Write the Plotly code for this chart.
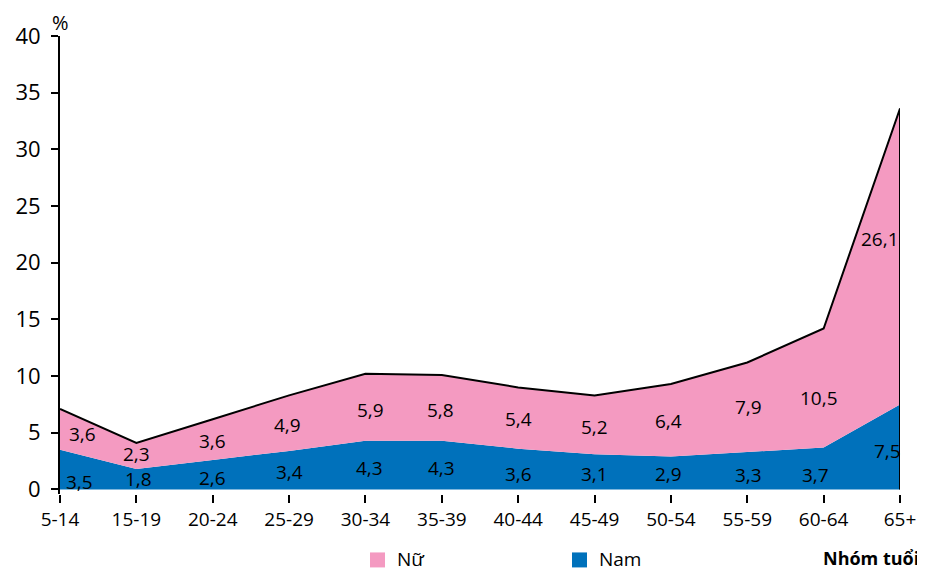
import plotly.graph_objects as go

categories = ["5-14", "15-19", "20-24", "25-29", "30-34", "35-39", "40-44",
              "45-49", "50-54", "55-59", "60-64", "65+"]
nam = [3.5, 1.8, 2.6, 3.4, 4.3, 4.3, 3.6, 3.1, 2.9, 3.3, 3.7, 7.5]
nu = [3.6, 2.3, 3.6, 4.9, 5.9, 5.8, 5.4, 5.2, 6.4, 7.9, 10.5, 26.1]
y_ticks = [0, 5, 10, 15, 20, 25, 30, 35, 40]

# label placement (text positions only)
nam_label_y = [0.7, 0.9, 1.05, 1.5, 1.9, 1.9, 1.4, 1.4, 1.4, 1.3, 1.3, 3.35]
nu_label_y = [4.85, 3.1, 4.25, 5.7, 7.05, 7.05, 6.25, 5.55, 6.0, 7.3, 8.1, 22.1]
nam_label_dx = [19, 2, 0, 0, 4, 0, 0, 0, -2, 1, -8, -13]
nu_label_dx = [22, 0, 0, -2, 5, -1, 0, 0, -2, 1, -5, -20]

PINK = "#F49AC1"
BLUE = "#0071BB"
FONT = "Open Sans"

x = list(range(len(categories)))
total = [a + b for a, b in zip(nam, nu)]

fig = go.Figure()
fig.add_trace(go.Scatter(x=x, y=nam, mode="lines", fill="tozeroy",
                         fillcolor=BLUE, line=dict(width=0, color=BLUE),
                         name="Nam", showlegend=False, hoverinfo="skip"))
fig.add_trace(go.Scatter(x=x, y=total, mode="lines", fill="tonexty",
                         fillcolor=PINK, line=dict(width=2, color="black"),
                         name="Nữ", showlegend=False, hoverinfo="skip"))
fig.add_trace(go.Scatter(x=[x[-1], x[-1]], y=[0, total[-1]], mode="lines",
                         line=dict(width=2, color="black"), showlegend=False,
                         hoverinfo="skip"))

def fmt(v):
    return f"{v:.1f}".replace(".", ",")

for i in x:
    fig.add_annotation(x=i, y=nam_label_y[i], text=fmt(nam[i]), showarrow=False,
                       xshift=nam_label_dx[i], font=dict(family=FONT, size=19, color="black"))
    fig.add_annotation(x=i, y=nu_label_y[i], text=fmt(nu[i]), showarrow=False,
                       xshift=nu_label_dx[i], font=dict(family=FONT, size=19, color="black"))

# page body has an 8px margin, so the figure is offset by 8px
OFF = 8
W, H = 925 - OFF, 573 - OFF
ML, MR, MT, MB = 60 - OFF, 25, 36 - OFF, 78.5
PH = H - MT - MB
PW = W - ML - MR
BOTTOM = 494.5  # page px of plot bottom
TOP = 36        # page px of plot top

# "%" unit
fig.add_annotation(xref="paper", yref="paper", x=0.0, y=1.0 + (TOP - 22) / PH,
                   xanchor="left", yanchor="middle", borderpad=0,
                   text="%", showarrow=False, xshift=-9,
                   font=dict(family=FONT, size=20, color="black"))
# axis title
fig.add_annotation(xref="paper", yref="paper", x=1.0, y=-(559 - BOTTOM) / PH,
                   xanchor="right", yanchor="middle",
                   text="<b>Nhóm tuổi</b>", showarrow=False, xshift=21,
                   font=dict(family=FONT, size=18, color="black"))

# custom legend
legend_items = [("Nữ", PINK, 370), ("Nam", BLUE, 572)]
for label, color, px in legend_items:
    fig.add_shape(type="rect", xref="paper", yref="paper",
                  x0=(px - 60) / PW, x1=(px + 15 - 60) / PW,
                  y0=-(568 - BOTTOM) / PH, y1=-(553 - BOTTOM) / PH,
                  fillcolor=color, line=dict(width=0))
    fig.add_annotation(xref="paper", yref="paper", x=(px + 25 - 60) / PW,
                       y=-(560 - BOTTOM) / PH, xanchor="left", yanchor="middle",
                       text=label, showarrow=False,
                       font=dict(family=FONT, size=19, color="black"))

fig.update_xaxes(range=[0, len(categories) - 1], tickvals=x, ticktext=categories,
                 showgrid=False, zeroline=False, showline=False, automargin=False,
                 ticks="outside", ticklen=8, tickwidth=2, tickcolor="black",
                 tickfont=dict(family=FONT, size=19, color="black"))
fig.update_yaxes(range=[-0.4, 40], tickvals=y_ticks, showgrid=False, zeroline=False,
                 showline=True, linecolor="black", linewidth=2, automargin=False,
                 ticks="outside", ticklen=7, tickwidth=2, tickcolor="black",
                 ticklabelstandoff=6,
                 tickfont=dict(family=FONT, size=22, color="black"))

fig.update_layout(width=W, height=H,
                  margin=dict(l=ML, r=MR, t=MT, b=MB, autoexpand=False),
                  plot_bgcolor="white", paper_bgcolor="white",
                  font=dict(family=FONT, color="black"))

fig.write_html("out.html")
